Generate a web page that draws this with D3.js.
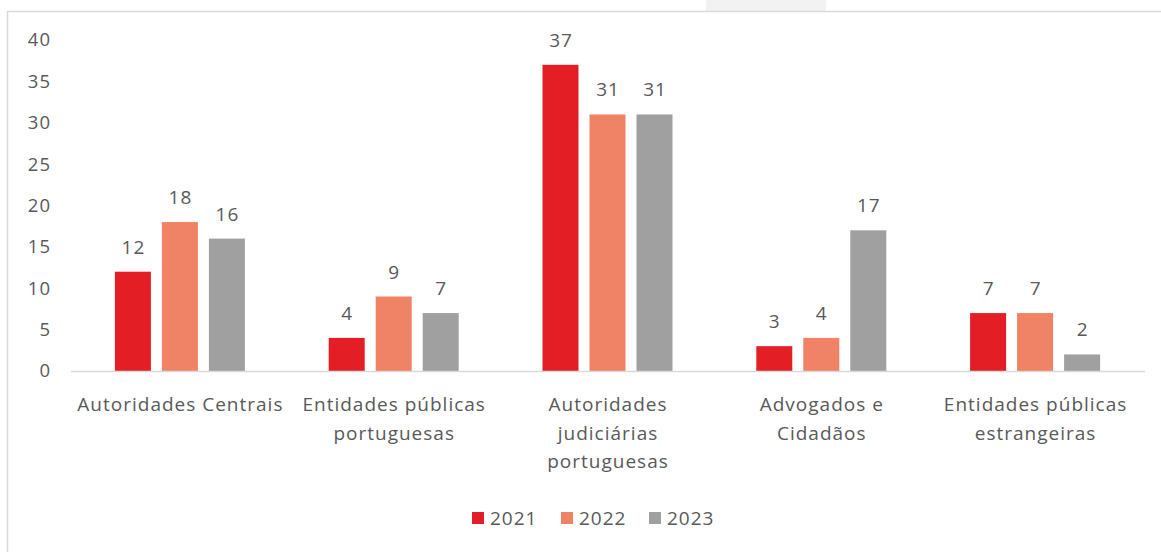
<!DOCTYPE html>
<html>
<head>
<meta charset="utf-8">
<script src="https://cdn.jsdelivr.net/npm/d3@7/dist/d3.min.js"></script>
<style>
  html, body { margin: 0; padding: 0; background: #fff; }
  svg { display: block; }
  text { font-family: "Open Sans", "Noto Sans", sans-serif; fill: #595959; letter-spacing: 1px; }
</style>
</head>
<body>
<svg id="chart" width="1161" height="552"></svg>
<script>
// Categories (line breaks mark where the axis label wraps)
const categories = [
  "Autoridades Centrais",
  "Entidades públicas\nportuguesas",
  "Autoridades\njudiciárias\nportuguesas",
  "Advogados e\nCidadãos",
  "Entidades públicas\nestrangeiras"
];
const seriesNames = ["2021", "2022", "2023"];
const values2021 = [12, 4, 37, 3, 7];
const values2022 = [18, 9, 31, 4, 7];
const values2023 = [16, 7, 31, 17, 2];
const yTicks = [0, 5, 10, 15, 20, 25, 30, 35, 40];
const colors = ["#e31e24", "#f08366", "#a0a0a0"];

const series = [values2021, values2022, values2023];

const svg = d3.select("#chart");

// frame
svg.append("rect").attr("x", 706).attr("y", 0).attr("width", 120).attr("height", 11).attr("fill", "#f2f2f2");
svg.append("rect")
  .attr("x", 7.5).attr("y", 11.5).attr("width", 1180).attr("height", 600)
  .attr("fill", "none").attr("stroke", "#d9d9d9").attr("stroke-width", 1.5);

const plot = { left: 73, right: 1142, top: 40, bottom: 371 };

const x0 = d3.scaleBand().domain(categories).range([plot.left, plot.right]);
const groupWidth = 130;
const x1 = d3.scaleBand().domain(seriesNames).range([0, groupWidth]).paddingInner(0.234);
const y = d3.scaleLinear().domain([0, 40]).range([plot.bottom, plot.top]);

// y tick labels
svg.append("g").selectAll("text").data(yTicks).join("text")
  .attr("x", 51).attr("y", d => y(d)).attr("dy", "0.35em")
  .attr("text-anchor", "end").attr("font-size", 18.5).text(d => d);

// bars with value labels
const groups = svg.append("g").selectAll("g").data(categories).join("g")
  .attr("transform", d => `translate(${x0(d) + x0.bandwidth() / 2 - groupWidth / 2},0)`);

groups.each(function(cat, ci) {
  const g = d3.select(this);
  seriesNames.forEach((s, si) => {
    const v = series[si][ci];
    g.append("rect")
      .attr("x", x1(s)).attr("width", x1.bandwidth())
      .attr("y", y(v)).attr("height", y(0) - y(v))
      .attr("fill", colors[si]);
    g.append("text")
      .attr("x", x1(s) + x1.bandwidth() / 2 + 0.5).attr("y", y(v) - 18)
      .attr("text-anchor", "middle").attr("font-size", 19).text(v);
  });
});

// zero line
svg.append("line")
  .attr("x1", 71).attr("x2", 1145)
  .attr("y1", y(0) + 0.5).attr("y2", y(0) + 0.5)
  .attr("stroke", "#d9d9d9").attr("stroke-width", 1.5);

// category labels
const lab = svg.append("g").selectAll("text").data(categories).join("text")
  .attr("text-anchor", "middle").attr("font-size", 19);
lab.each(function(d) {
  const t = d3.select(this);
  d.split("\n").forEach((line, i) => {
    t.append("tspan")
      .attr("x", x0(d) + x0.bandwidth() / 2 + 0.5)
      .attr("y", 411 + i * 28.5)
      .text(line);
  });
});

// legend
const legendX = [472, 561, 649];
const leg = svg.append("g").selectAll("g").data(seriesNames).join("g")
  .attr("transform", (d, i) => `translate(${legendX[i]},512)`);
leg.append("rect").attr("width", 12).attr("height", 12).attr("fill", (d, i) => colors[i]);
leg.append("text").attr("x", 18).attr("y", 6).attr("dy", "0.35em")
  .attr("font-size", 19).text(d => d);
</script>
</body>
</html>
